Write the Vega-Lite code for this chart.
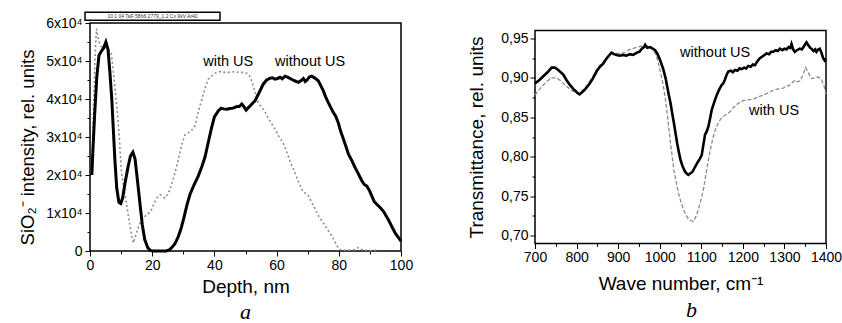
{
  "$schema": "https://vega.github.io/schema/vega-lite/v6.json",
  "padding": {"left": 17, "top": 10, "right": 0, "bottom": 0},
  "bounds": "flush",
  "center": true,
  "spacing": 134,
  "config": {
    "font": "Liberation Sans",
    "view": {"stroke": "black", "strokeWidth": 1.5},
    "axis": {
      "grid": false, "domain": false, "tickColor": "black", "tickWidth": 1,
      "labelColor": "black", "titleColor": "black",
      "labelFont": "Liberation Sans", "titleFont": "Liberation Sans",
      "labelFontSize": 14, "titleFontSize": 19, "titleFontWeight": "normal",
      "labelFlush": false, "labelOverlap": false
    },
    "text": {"font": "Liberation Sans", "fontSize": 14.5, "color": "black"}
  },
  "datasets": {
    "simsWithout": [
      {"depth": 0.6, "v": 20000}, {"depth": 0.9, "v": 26000}, {"depth": 1.5, "v": 36000}, {"depth": 2.2, "v": 46000},
      {"depth": 2.9, "v": 51500}, {"depth": 3.6, "v": 52500}, {"depth": 4.3, "v": 53300}, {"depth": 5.1, "v": 55000},
      {"depth": 5.8, "v": 53000}, {"depth": 6.4, "v": 47000}, {"depth": 7.0, "v": 40000}, {"depth": 7.5, "v": 32000},
      {"depth": 8.0, "v": 24000}, {"depth": 8.6, "v": 16500}, {"depth": 9.3, "v": 12800}, {"depth": 9.9, "v": 12500},
      {"depth": 10.5, "v": 14000}, {"depth": 11.3, "v": 18000}, {"depth": 12.2, "v": 22000}, {"depth": 13.0, "v": 25000},
      {"depth": 13.8, "v": 26000}, {"depth": 14.5, "v": 24200}, {"depth": 15.2, "v": 19000}, {"depth": 16.0, "v": 13000},
      {"depth": 16.8, "v": 7000}, {"depth": 17.6, "v": 3000}, {"depth": 18.6, "v": 800}, {"depth": 19.5, "v": 100},
      {"depth": 20.5, "v": 0}, {"depth": 22.5, "v": 0}, {"depth": 24.5, "v": 0}, {"depth": 25.5, "v": 300},
      {"depth": 26.3, "v": 900}, {"depth": 27.3, "v": 1900}, {"depth": 28.4, "v": 3800}, {"depth": 29.3, "v": 6000},
      {"depth": 30.2, "v": 8800}, {"depth": 31.2, "v": 12200}, {"depth": 32.2, "v": 15000}, {"depth": 33.5, "v": 17500},
      {"depth": 34.8, "v": 19700}, {"depth": 36.0, "v": 22300}, {"depth": 37.0, "v": 24800}, {"depth": 38.0, "v": 28500},
      {"depth": 39.1, "v": 32500}, {"depth": 40.0, "v": 35300}, {"depth": 41.3, "v": 36900}, {"depth": 42.2, "v": 37600},
      {"depth": 42.9, "v": 37400}, {"depth": 44.0, "v": 37300}, {"depth": 45.0, "v": 37500}, {"depth": 46.0, "v": 37600},
      {"depth": 47.2, "v": 38000}, {"depth": 48.0, "v": 38000}, {"depth": 48.8, "v": 38700}, {"depth": 49.5, "v": 38000},
      {"depth": 50.2, "v": 37100}, {"depth": 51.0, "v": 37800}, {"depth": 51.6, "v": 38300}, {"depth": 52.3, "v": 38900},
      {"depth": 53.1, "v": 39600}, {"depth": 54.4, "v": 41700}, {"depth": 55.7, "v": 43900}, {"depth": 56.8, "v": 45000},
      {"depth": 57.9, "v": 45500}, {"depth": 58.7, "v": 45600}, {"depth": 59.5, "v": 45200}, {"depth": 60.3, "v": 45400},
      {"depth": 61.1, "v": 45700}, {"depth": 61.8, "v": 45300}, {"depth": 62.7, "v": 46000}, {"depth": 63.7, "v": 45700},
      {"depth": 64.8, "v": 45200}, {"depth": 65.8, "v": 44800}, {"depth": 67.0, "v": 44400}, {"depth": 67.8, "v": 44800},
      {"depth": 68.6, "v": 45400}, {"depth": 69.2, "v": 44600}, {"depth": 69.8, "v": 45000}, {"depth": 70.5, "v": 45800},
      {"depth": 71.3, "v": 46000}, {"depth": 72.3, "v": 45500}, {"depth": 73.4, "v": 44800}, {"depth": 74.2, "v": 43500},
      {"depth": 75.0, "v": 42200}, {"depth": 75.8, "v": 40500}, {"depth": 76.6, "v": 39100}, {"depth": 77.4, "v": 37800},
      {"depth": 78.2, "v": 36500}, {"depth": 79.0, "v": 35500}, {"depth": 79.8, "v": 33800}, {"depth": 80.6, "v": 31500},
      {"depth": 81.5, "v": 29400}, {"depth": 82.3, "v": 27500}, {"depth": 83.1, "v": 25500}, {"depth": 84.2, "v": 23800},
      {"depth": 85.2, "v": 22000}, {"depth": 86.3, "v": 20300}, {"depth": 87.4, "v": 18500}, {"depth": 88.2, "v": 17500},
      {"depth": 89.0, "v": 17100}, {"depth": 89.8, "v": 16000}, {"depth": 90.6, "v": 14500}, {"depth": 91.4, "v": 13000},
      {"depth": 92.2, "v": 12300}, {"depth": 93.2, "v": 11500}, {"depth": 94.3, "v": 10500}, {"depth": 95.1, "v": 9400},
      {"depth": 95.9, "v": 8300}, {"depth": 96.7, "v": 7000}, {"depth": 97.5, "v": 5700}, {"depth": 98.3, "v": 4500},
      {"depth": 99.2, "v": 3500}, {"depth": 100, "v": 2600}
    ],
    "simsWith": [
      {"depth": 0.9, "v": 30000}, {"depth": 1.2, "v": 40000}, {"depth": 1.5, "v": 48000}, {"depth": 1.8, "v": 54500},
      {"depth": 2.1, "v": 58500}, {"depth": 2.6, "v": 56000}, {"depth": 3.3, "v": 54000}, {"depth": 4.2, "v": 53500},
      {"depth": 5.1, "v": 53500}, {"depth": 6.0, "v": 53000}, {"depth": 6.9, "v": 51800}, {"depth": 7.4, "v": 48000},
      {"depth": 7.9, "v": 44000}, {"depth": 8.5, "v": 39000}, {"depth": 9.0, "v": 34500}, {"depth": 9.6, "v": 27500},
      {"depth": 10.1, "v": 21000}, {"depth": 10.6, "v": 18000}, {"depth": 11.1, "v": 15700}, {"depth": 12.0, "v": 11000},
      {"depth": 12.8, "v": 6900}, {"depth": 13.4, "v": 4000}, {"depth": 13.9, "v": 2100}, {"depth": 14.5, "v": 3500},
      {"depth": 15.2, "v": 5500}, {"depth": 16.1, "v": 7400}, {"depth": 17.1, "v": 8700}, {"depth": 18.2, "v": 9500},
      {"depth": 19.0, "v": 10000}, {"depth": 19.8, "v": 10900}, {"depth": 20.6, "v": 12500}, {"depth": 21.4, "v": 13800},
      {"depth": 21.9, "v": 14400}, {"depth": 22.6, "v": 14800}, {"depth": 23.3, "v": 14300}, {"depth": 24.1, "v": 13900},
      {"depth": 24.8, "v": 14700}, {"depth": 25.6, "v": 16000}, {"depth": 26.4, "v": 18000}, {"depth": 27.3, "v": 20500},
      {"depth": 28.4, "v": 24000}, {"depth": 29.5, "v": 28000}, {"depth": 30.5, "v": 30500}, {"depth": 31.5, "v": 31000},
      {"depth": 32.7, "v": 31800}, {"depth": 33.8, "v": 33000}, {"depth": 34.8, "v": 36600}, {"depth": 36.0, "v": 40000},
      {"depth": 37.0, "v": 42800}, {"depth": 38.0, "v": 45200}, {"depth": 39.0, "v": 46000}, {"depth": 40.2, "v": 46800},
      {"depth": 41.8, "v": 47200}, {"depth": 43.5, "v": 47000}, {"depth": 45.0, "v": 47000}, {"depth": 46.5, "v": 47200},
      {"depth": 48.2, "v": 47000}, {"depth": 49.5, "v": 47000}, {"depth": 50.9, "v": 46600}, {"depth": 51.7, "v": 45500},
      {"depth": 52.5, "v": 43500}, {"depth": 53.3, "v": 41000}, {"depth": 54.1, "v": 39000}, {"depth": 55.0, "v": 38000},
      {"depth": 55.7, "v": 37300}, {"depth": 56.5, "v": 36300}, {"depth": 57.3, "v": 35000}, {"depth": 58.1, "v": 34000},
      {"depth": 58.9, "v": 32800}, {"depth": 59.8, "v": 31600}, {"depth": 60.6, "v": 30300}, {"depth": 61.4, "v": 29300},
      {"depth": 62.2, "v": 28200}, {"depth": 63.0, "v": 26600}, {"depth": 63.8, "v": 24800}, {"depth": 64.6, "v": 23000},
      {"depth": 65.4, "v": 21600}, {"depth": 66.2, "v": 20000}, {"depth": 67.0, "v": 18300}, {"depth": 67.8, "v": 16800},
      {"depth": 68.6, "v": 15500}, {"depth": 69.4, "v": 15100}, {"depth": 70.2, "v": 14600}, {"depth": 71.3, "v": 12800},
      {"depth": 72.1, "v": 11500}, {"depth": 72.9, "v": 10200}, {"depth": 73.7, "v": 8900}, {"depth": 74.5, "v": 8000},
      {"depth": 75.5, "v": 6800}, {"depth": 76.6, "v": 5400}, {"depth": 77.4, "v": 4400}, {"depth": 78.2, "v": 3300},
      {"depth": 79.0, "v": 2000}, {"depth": 79.8, "v": 800}, {"depth": 80.6, "v": 300}, {"depth": 81.5, "v": 200},
      {"depth": 82.5, "v": 300}, {"depth": 83.6, "v": 200}, {"depth": 84.7, "v": 300}, {"depth": 85.5, "v": 500},
      {"depth": 86.3, "v": 900}, {"depth": 87.1, "v": 500}, {"depth": 87.9, "v": 200}, {"depth": 89.0, "v": 200},
      {"depth": 90.0, "v": 100}, {"depth": 91.5, "v": 200}, {"depth": 93.0, "v": 200}
    ],
    "simsLabels": [
      {"depth": 36.4, "v": 49800, "label": "with US"},
      {"depth": 59.5, "v": 49800, "label": "without US"}
    ],
    "simsBox": [
      {"x1": -1.6, "x2": 41.8, "y1": 60700, "y2": 62800, "xm": 20.1, "ym": 61750, "label": "10:1 04 TaF 58b6 2779_1.2 Cx 9kV Ar40"}
    ],
    "ftirWithout": [
      {"wn": 700, "t": 0.893}, {"wn": 710, "t": 0.897}, {"wn": 720, "t": 0.902}, {"wn": 730, "t": 0.907}, {"wn": 740, "t": 0.913},
      {"wn": 748, "t": 0.913}, {"wn": 756, "t": 0.910}, {"wn": 768, "t": 0.904}, {"wn": 776, "t": 0.897}, {"wn": 784, "t": 0.891},
      {"wn": 792, "t": 0.886}, {"wn": 800, "t": 0.882}, {"wn": 807, "t": 0.879}, {"wn": 814, "t": 0.882}, {"wn": 820, "t": 0.885},
      {"wn": 826, "t": 0.889}, {"wn": 832, "t": 0.893}, {"wn": 840, "t": 0.900}, {"wn": 848, "t": 0.908}, {"wn": 856, "t": 0.914},
      {"wn": 864, "t": 0.918}, {"wn": 870, "t": 0.923}, {"wn": 876, "t": 0.927}, {"wn": 884, "t": 0.932}, {"wn": 890, "t": 0.930},
      {"wn": 896, "t": 0.929}, {"wn": 904, "t": 0.928}, {"wn": 912, "t": 0.929}, {"wn": 920, "t": 0.928}, {"wn": 928, "t": 0.930},
      {"wn": 936, "t": 0.929}, {"wn": 945, "t": 0.932}, {"wn": 951, "t": 0.933}, {"wn": 957, "t": 0.937}, {"wn": 962, "t": 0.939},
      {"wn": 965, "t": 0.942}, {"wn": 970, "t": 0.938}, {"wn": 977, "t": 0.939}, {"wn": 983, "t": 0.937}, {"wn": 989, "t": 0.935},
      {"wn": 994, "t": 0.931}, {"wn": 999, "t": 0.925}, {"wn": 1004, "t": 0.918}, {"wn": 1009, "t": 0.910}, {"wn": 1014, "t": 0.900},
      {"wn": 1018, "t": 0.889}, {"wn": 1022, "t": 0.878}, {"wn": 1026, "t": 0.868}, {"wn": 1030, "t": 0.855}, {"wn": 1034, "t": 0.843},
      {"wn": 1038, "t": 0.830}, {"wn": 1042, "t": 0.817}, {"wn": 1046, "t": 0.806}, {"wn": 1050, "t": 0.796}, {"wn": 1055, "t": 0.788},
      {"wn": 1061, "t": 0.781}, {"wn": 1066, "t": 0.778}, {"wn": 1069, "t": 0.777}, {"wn": 1074, "t": 0.779}, {"wn": 1079, "t": 0.781},
      {"wn": 1084, "t": 0.786}, {"wn": 1090, "t": 0.792}, {"wn": 1096, "t": 0.797}, {"wn": 1101, "t": 0.802}, {"wn": 1105, "t": 0.815},
      {"wn": 1109, "t": 0.828}, {"wn": 1113, "t": 0.832}, {"wn": 1117, "t": 0.838}, {"wn": 1121, "t": 0.848}, {"wn": 1125, "t": 0.859},
      {"wn": 1131, "t": 0.869}, {"wn": 1137, "t": 0.878}, {"wn": 1143, "t": 0.885}, {"wn": 1149, "t": 0.891}, {"wn": 1153, "t": 0.893},
      {"wn": 1157, "t": 0.898}, {"wn": 1161, "t": 0.904}, {"wn": 1165, "t": 0.908}, {"wn": 1171, "t": 0.909}, {"wn": 1176, "t": 0.907},
      {"wn": 1181, "t": 0.910}, {"wn": 1187, "t": 0.909}, {"wn": 1192, "t": 0.912}, {"wn": 1197, "t": 0.911}, {"wn": 1203, "t": 0.913},
      {"wn": 1208, "t": 0.912}, {"wn": 1213, "t": 0.915}, {"wn": 1219, "t": 0.914}, {"wn": 1224, "t": 0.917}, {"wn": 1229, "t": 0.916},
      {"wn": 1235, "t": 0.921}, {"wn": 1241, "t": 0.925}, {"wn": 1247, "t": 0.927}, {"wn": 1252, "t": 0.929}, {"wn": 1257, "t": 0.931},
      {"wn": 1263, "t": 0.930}, {"wn": 1268, "t": 0.933}, {"wn": 1273, "t": 0.933}, {"wn": 1279, "t": 0.935}, {"wn": 1284, "t": 0.934},
      {"wn": 1289, "t": 0.937}, {"wn": 1295, "t": 0.935}, {"wn": 1300, "t": 0.937}, {"wn": 1305, "t": 0.936}, {"wn": 1310, "t": 0.939},
      {"wn": 1314, "t": 0.938}, {"wn": 1317, "t": 0.943}, {"wn": 1321, "t": 0.936}, {"wn": 1325, "t": 0.933}, {"wn": 1330, "t": 0.935},
      {"wn": 1337, "t": 0.937}, {"wn": 1342, "t": 0.936}, {"wn": 1347, "t": 0.940}, {"wn": 1353, "t": 0.945}, {"wn": 1358, "t": 0.941},
      {"wn": 1362, "t": 0.938}, {"wn": 1365, "t": 0.937}, {"wn": 1370, "t": 0.934}, {"wn": 1374, "t": 0.936}, {"wn": 1377, "t": 0.933},
      {"wn": 1381, "t": 0.936}, {"wn": 1385, "t": 0.937}, {"wn": 1389, "t": 0.932}, {"wn": 1393, "t": 0.925}, {"wn": 1397, "t": 0.922},
      {"wn": 1400, "t": 0.924}
    ],
    "ftirWith": [
      {"wn": 700, "t": 0.878}, {"wn": 710, "t": 0.885}, {"wn": 720, "t": 0.891}, {"wn": 730, "t": 0.896}, {"wn": 740, "t": 0.900},
      {"wn": 752, "t": 0.900}, {"wn": 760, "t": 0.897}, {"wn": 768, "t": 0.893}, {"wn": 776, "t": 0.889}, {"wn": 784, "t": 0.886},
      {"wn": 792, "t": 0.883}, {"wn": 800, "t": 0.880}, {"wn": 806, "t": 0.880}, {"wn": 812, "t": 0.883}, {"wn": 820, "t": 0.887},
      {"wn": 828, "t": 0.893}, {"wn": 838, "t": 0.901}, {"wn": 848, "t": 0.910}, {"wn": 856, "t": 0.916}, {"wn": 864, "t": 0.920},
      {"wn": 874, "t": 0.926}, {"wn": 884, "t": 0.932}, {"wn": 894, "t": 0.931}, {"wn": 904, "t": 0.931}, {"wn": 916, "t": 0.932},
      {"wn": 928, "t": 0.936}, {"wn": 940, "t": 0.938}, {"wn": 953, "t": 0.940}, {"wn": 965, "t": 0.941}, {"wn": 977, "t": 0.939},
      {"wn": 984, "t": 0.936}, {"wn": 989, "t": 0.931}, {"wn": 994, "t": 0.924}, {"wn": 999, "t": 0.914}, {"wn": 1004, "t": 0.902},
      {"wn": 1009, "t": 0.889}, {"wn": 1014, "t": 0.872}, {"wn": 1018, "t": 0.855}, {"wn": 1022, "t": 0.836}, {"wn": 1026, "t": 0.817},
      {"wn": 1030, "t": 0.800}, {"wn": 1034, "t": 0.783}, {"wn": 1040, "t": 0.767}, {"wn": 1045, "t": 0.754}, {"wn": 1051, "t": 0.743},
      {"wn": 1057, "t": 0.733}, {"wn": 1063, "t": 0.726}, {"wn": 1069, "t": 0.721}, {"wn": 1075, "t": 0.719}, {"wn": 1081, "t": 0.718},
      {"wn": 1087, "t": 0.724}, {"wn": 1093, "t": 0.733}, {"wn": 1099, "t": 0.745}, {"wn": 1105, "t": 0.758}, {"wn": 1111, "t": 0.777},
      {"wn": 1117, "t": 0.796}, {"wn": 1123, "t": 0.812}, {"wn": 1129, "t": 0.826}, {"wn": 1135, "t": 0.836}, {"wn": 1141, "t": 0.843},
      {"wn": 1147, "t": 0.848}, {"wn": 1153, "t": 0.851}, {"wn": 1161, "t": 0.854}, {"wn": 1169, "t": 0.857}, {"wn": 1177, "t": 0.862},
      {"wn": 1185, "t": 0.866}, {"wn": 1193, "t": 0.869}, {"wn": 1201, "t": 0.871}, {"wn": 1213, "t": 0.872}, {"wn": 1225, "t": 0.873},
      {"wn": 1237, "t": 0.876}, {"wn": 1249, "t": 0.878}, {"wn": 1261, "t": 0.881}, {"wn": 1273, "t": 0.884}, {"wn": 1285, "t": 0.886},
      {"wn": 1297, "t": 0.887}, {"wn": 1305, "t": 0.889}, {"wn": 1313, "t": 0.891}, {"wn": 1319, "t": 0.894}, {"wn": 1325, "t": 0.897},
      {"wn": 1331, "t": 0.895}, {"wn": 1337, "t": 0.896}, {"wn": 1344, "t": 0.903}, {"wn": 1351, "t": 0.913}, {"wn": 1358, "t": 0.906},
      {"wn": 1365, "t": 0.899}, {"wn": 1373, "t": 0.900}, {"wn": 1381, "t": 0.901}, {"wn": 1389, "t": 0.898}, {"wn": 1395, "t": 0.890},
      {"wn": 1400, "t": 0.879}
    ],
    "ftirLabels": [
      {"wn": 1049, "t": 0.932, "label": "without US"},
      {"wn": 1215, "t": 0.8585, "label": "with US"}
    ]
  },
  "hconcat": [
    {
      "width": 311,
      "height": 228,
      "title": {"text": "a", "orient": "bottom", "font": "Liberation Serif", "fontStyle": "italic", "fontWeight": "normal", "fontSize": 22, "color": "black", "offset": 6, "anchor": "middle"},
      "resolve": {"axis": {"x": "independent", "y": "independent"}},
      "layer": [
        {
          "data": {"name": "simsWith"},
          "mark": {"type": "line", "color": "#8c8c8c", "strokeWidth": 1.6, "strokeDash": [2, 2.5]},
          "encoding": {
            "x": {"field": "depth", "type": "quantitative", "scale": {"domain": [0, 100], "nice": false, "zero": false},
                  "axis": {"orient": "bottom", "values": [10, 30, 50, 70, 90], "labels": false, "title": null, "tickSize": 3}},
            "y": {"field": "v", "type": "quantitative", "scale": {"domain": [0, 60000], "nice": false},
                  "axis": {"orient": "left", "values": [5000, 15000, 25000, 35000, 45000, 55000], "labels": false, "title": null, "tickSize": 3}}
          }
        },
        {
          "data": {"name": "simsWithout"},
          "mark": {"type": "line", "color": "black", "strokeWidth": 3},
          "encoding": {
            "x": {"field": "depth", "type": "quantitative",
                  "axis": {"orient": "bottom", "values": [0, 20, 40, 60, 80, 100], "title": "Depth, nm", "tickSize": 5, "labelPadding": 2, "titlePadding": 5}},
            "y": {"field": "v", "type": "quantitative",
                  "axis": {"orient": "left", "values": [0, 10000, 20000, 30000, 40000, 50000, 60000], "tickSize": 5, "labelPadding": 3,
                           "labelExpr": "datum.value == 0 ? '0' : format(datum.value / 10000, 'd') + 'x10⁴'",
                           "title": "SiO₂⁻ intensity, rel. units", "titleFontSize": 18.5, "titlePadding": 8, "titleY": 124}}
          }
        },
        {
          "data": {"name": "simsLabels"},
          "mark": {"type": "text", "align": "left", "baseline": "middle"},
          "encoding": {
            "x": {"field": "depth", "type": "quantitative", "axis": null},
            "y": {"field": "v", "type": "quantitative", "axis": null},
            "text": {"field": "label"}
          }
        },
        {
          "data": {"name": "simsBox"},
          "mark": {"type": "rect", "fill": "white", "stroke": "black", "strokeWidth": 1.5},
          "encoding": {
            "x": {"field": "x1", "type": "quantitative", "axis": null},
            "x2": {"field": "x2"},
            "y": {"field": "y1", "type": "quantitative", "axis": null},
            "y2": {"field": "y2"}
          }
        },
        {
          "data": {"name": "simsBox"},
          "mark": {"type": "text", "fontSize": 5, "align": "center", "baseline": "middle", "color": "#333333"},
          "encoding": {
            "x": {"field": "xm", "type": "quantitative", "axis": null},
            "y": {"field": "ym", "type": "quantitative", "axis": null},
            "text": {"field": "label"}
          }
        }
      ]
    },
    {
      "width": 291,
      "height": 213,
      "title": {"text": "b", "orient": "bottom", "font": "Liberation Serif", "fontStyle": "italic", "fontWeight": "normal", "fontSize": 22, "color": "black", "offset": 6, "anchor": "middle", "dx": 11},
      "resolve": {"axis": {"x": "independent", "y": "independent"}},
      "layer": [
        {
          "data": {"name": "ftirWith"},
          "mark": {"type": "line", "color": "#8c8c8c", "strokeWidth": 1.3, "strokeDash": [4, 2]},
          "encoding": {
            "x": {"field": "wn", "type": "quantitative", "scale": {"domain": [700, 1400], "nice": false, "zero": false},
                  "axis": {"orient": "bottom", "values": [750, 850, 950, 1050, 1150, 1250, 1350], "labels": false, "title": null, "tickSize": 3}},
            "y": {"field": "t", "type": "quantitative", "scale": {"domain": [0.69, 0.96], "nice": false, "zero": false},
                  "axis": {"orient": "left", "values": [0.725, 0.775, 0.825, 0.875, 0.925], "labels": false, "title": null, "tickSize": 3}}
          }
        },
        {
          "data": {"name": "ftirWithout"},
          "mark": {"type": "line", "color": "black", "strokeWidth": 2.6},
          "encoding": {
            "x": {"field": "wn", "type": "quantitative",
                  "axis": {"orient": "bottom", "values": [700, 800, 900, 1000, 1100, 1200, 1300, 1400], "format": "d", "title": "Wave number, cm⁻¹", "tickSize": 5, "labelPadding": 2, "titlePadding": 10}},
            "y": {"field": "t", "type": "quantitative",
                  "axis": {"orient": "left", "values": [0.7, 0.75, 0.8, 0.85, 0.9, 0.95], "tickSize": 5, "labelPadding": 2,
                           "labelExpr": "replace(format(datum.value, '.2f'), '.', ',')",
                           "title": "Transmittance, rel. units", "titlePadding": 14}}
          }
        },
        {
          "data": {"name": "ftirLabels"},
          "mark": {"type": "text", "align": "left", "baseline": "middle"},
          "encoding": {
            "x": {"field": "wn", "type": "quantitative", "axis": null},
            "y": {"field": "t", "type": "quantitative", "axis": null},
            "text": {"field": "label"}
          }
        }
      ]
    }
  ]
}
